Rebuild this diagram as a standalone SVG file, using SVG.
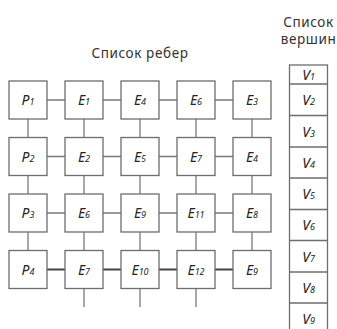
<svg xmlns="http://www.w3.org/2000/svg" width="337" height="329" viewBox="0 0 337 329">
  <style>
    .box { fill: #ffffff; stroke: #6e6e6e; stroke-width: 1.3; }
    .link { stroke: #7a7a7a; stroke-width: 1.3; fill: none; }
    .bold { stroke: #444444; stroke-width: 2.2; fill: none; }
    .title { font-family: "Noto Sans", "Open Sans", sans-serif; font-size: 13.5px; fill: #333333; text-anchor: middle; letter-spacing: 0.6px; }
    .lbl { font-family: "Noto Sans", "Open Sans", sans-serif; font-size: 14px; font-style: italic; fill: #222222; text-anchor: middle; }
    .sub { font-size: 9px; }
  </style>
  <rect width="337" height="329" fill="#ffffff"/>

  <text class="title" x="140" y="57.5">Список ребер</text>
  <text class="title" x="308.5" y="27">Список</text>
  <text class="title" x="308.5" y="44">вершин</text>

  <!-- connectors -->
  <g id="connectors">
    <!-- horizontal, rows 1-3 -->
    <path class="link" d="M47 100H65M103 100H121M159 100H177M215 100H233
                          M47 156.5H65M103 156.5H121M159 156.5H177M215 156.5H233
                          M47 213H65M103 213H121M159 213H177M215 213H233"/>
    <!-- horizontal, row 4 -->
    <path class="bold" d="M47 269.5H65M103 269.5H121M159 269.5H177M215 269.5H233"/>
    <!-- vertical -->
    <path class="link" d="M28 119V137.5M84 119V137.5M140 119V137.5M196 119V137.5M252 119V137.5
                          M28 175.5V194M84 175.5V194M140 175.5V194M196 175.5V194M252 175.5V194
                          M28 232V250.5M84 232V250.5M140 232V250.5M196 232V250.5M252 232V250.5
                          M84 288.5V307M140 288.5V307M196 288.5V307"/>
  </g>

  <!-- edge list -->
  <g id="P1"><rect class="box" x="9" y="81" width="38" height="38"/><text class="lbl" x="28" y="105">P<tspan class="sub">1</tspan></text></g>
  <g id="E1r1"><rect class="box" x="65" y="81" width="38" height="38"/><text class="lbl" x="84" y="105">E<tspan class="sub">1</tspan></text></g>
  <g id="E4r1"><rect class="box" x="121" y="81" width="38" height="38"/><text class="lbl" x="140" y="105">E<tspan class="sub">4</tspan></text></g>
  <g id="E6r1"><rect class="box" x="177" y="81" width="38" height="38"/><text class="lbl" x="196" y="105">E<tspan class="sub">6</tspan></text></g>
  <g id="E3r1"><rect class="box" x="233" y="81" width="38" height="38"/><text class="lbl" x="252" y="105">E<tspan class="sub">3</tspan></text></g>

  <g id="P2"><rect class="box" x="9" y="137.5" width="38" height="38"/><text class="lbl" x="28" y="161.5">P<tspan class="sub">2</tspan></text></g>
  <g id="E2r2"><rect class="box" x="65" y="137.5" width="38" height="38"/><text class="lbl" x="84" y="161.5">E<tspan class="sub">2</tspan></text></g>
  <g id="E5r2"><rect class="box" x="121" y="137.5" width="38" height="38"/><text class="lbl" x="140" y="161.5">E<tspan class="sub">5</tspan></text></g>
  <g id="E7r2"><rect class="box" x="177" y="137.5" width="38" height="38"/><text class="lbl" x="196" y="161.5">E<tspan class="sub">7</tspan></text></g>
  <g id="E4r2"><rect class="box" x="233" y="137.5" width="38" height="38"/><text class="lbl" x="252" y="161.5">E<tspan class="sub">4</tspan></text></g>

  <g id="P3"><rect class="box" x="9" y="194" width="38" height="38"/><text class="lbl" x="28" y="218">P<tspan class="sub">3</tspan></text></g>
  <g id="E6r3"><rect class="box" x="65" y="194" width="38" height="38"/><text class="lbl" x="84" y="218">E<tspan class="sub">6</tspan></text></g>
  <g id="E9r3"><rect class="box" x="121" y="194" width="38" height="38"/><text class="lbl" x="140" y="218">E<tspan class="sub">9</tspan></text></g>
  <g id="E11r3"><rect class="box" x="177" y="194" width="38" height="38"/><text class="lbl" x="196" y="218">E<tspan class="sub">11</tspan></text></g>
  <g id="E8r3"><rect class="box" x="233" y="194" width="38" height="38"/><text class="lbl" x="252" y="218">E<tspan class="sub">8</tspan></text></g>

  <g id="P4"><rect class="box" x="9" y="250.5" width="38" height="38"/><text class="lbl" x="28" y="274.5">P<tspan class="sub">4</tspan></text></g>
  <g id="E7r4"><rect class="box" x="65" y="250.5" width="38" height="38"/><text class="lbl" x="84" y="274.5">E<tspan class="sub">7</tspan></text></g>
  <g id="E10r4"><rect class="box" x="121" y="250.5" width="38" height="38"/><text class="lbl" x="140" y="274.5">E<tspan class="sub">10</tspan></text></g>
  <g id="E12r4"><rect class="box" x="177" y="250.5" width="38" height="38"/><text class="lbl" x="196" y="274.5">E<tspan class="sub">12</tspan></text></g>
  <g id="E9r4"><rect class="box" x="233" y="250.5" width="38" height="38"/><text class="lbl" x="252" y="274.5">E<tspan class="sub">9</tspan></text></g>

  <!-- vertex list -->
  <g id="vertices">
    <rect class="box" x="289.5" y="65" width="38" height="270"/>
    <path class="box" d="M289.5 84H327.5M289.5 115.5H327.5M289.5 147H327.5M289.5 178H327.5M289.5 209.5H327.5M289.5 240.5H327.5M289.5 272H327.5M289.5 303H327.5"/>
    <text class="lbl" x="308.5" y="79.5">V<tspan class="sub">1</tspan></text>
    <text class="lbl" x="308.5" y="105">V<tspan class="sub">2</tspan></text>
    <text class="lbl" x="308.5" y="136.5">V<tspan class="sub">3</tspan></text>
    <text class="lbl" x="308.5" y="167.5">V<tspan class="sub">4</tspan></text>
    <text class="lbl" x="308.5" y="199">V<tspan class="sub">5</tspan></text>
    <text class="lbl" x="308.5" y="230">V<tspan class="sub">6</tspan></text>
    <text class="lbl" x="308.5" y="261.5">V<tspan class="sub">7</tspan></text>
    <text class="lbl" x="308.5" y="292.5">V<tspan class="sub">8</tspan></text>
    <text class="lbl" x="308.5" y="323.5">V<tspan class="sub">9</tspan></text>
  </g>
</svg>
